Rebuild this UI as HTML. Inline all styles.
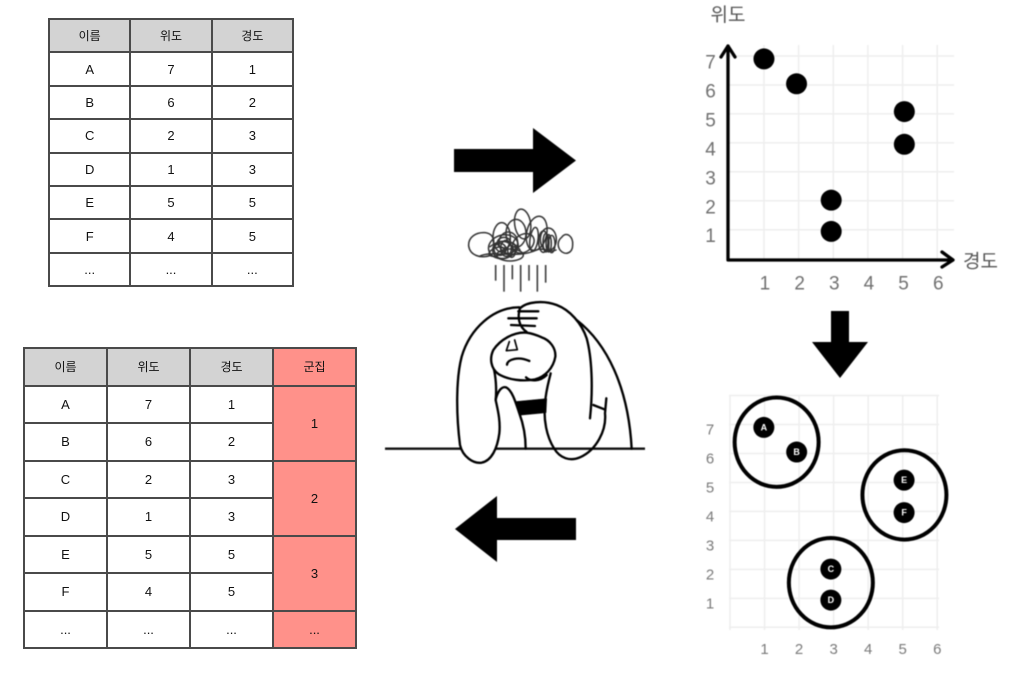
<!DOCTYPE html>
<html lang="ko">
<head>
<meta charset="utf-8">
<title>위도 경도 군집화</title>
<style>
html,body{margin:0;padding:0;background:#fff;}
#stage{position:relative;width:1017px;height:677px;overflow:hidden;background:#fff;font-family:"Liberation Sans","Noto Sans CJK KR",sans-serif;}
#art{position:absolute;left:0;top:0;filter:blur(.4px);}
#art text{font-family:"Liberation Sans","Noto Sans CJK KR",sans-serif;}
table{position:absolute;border-collapse:collapse;table-layout:fixed;color:#111;filter:blur(.35px);}
td,th{border:2px solid #4a4a4a;padding:0;text-align:center;vertical-align:middle;font-weight:400;}
th{background:#d3d3d3;font-size:12px;}
.red{background:#ff918a;}
#t1{left:48px;top:18px;width:246px;height:268px;font-size:13px;}
#t1 tr{height:33.4px;}
#t2{left:23px;top:347px;width:334px;height:300px;font-size:13px;}
#t2 tr{height:37.5px;}
</style>
</head>
<body>
<div id="stage">

<table id="t1">
<tr><th>이름</th><th>위도</th><th>경도</th></tr>
<tr><td>A</td><td>7</td><td>1</td></tr>
<tr><td>B</td><td>6</td><td>2</td></tr>
<tr><td>C</td><td>2</td><td>3</td></tr>
<tr><td>D</td><td>1</td><td>3</td></tr>
<tr><td>E</td><td>5</td><td>5</td></tr>
<tr><td>F</td><td>4</td><td>5</td></tr>
<tr><td>...</td><td>...</td><td>...</td></tr>
</table>

<table id="t2">
<tr><th>이름</th><th>위도</th><th>경도</th><th class="red">군집</th></tr>
<tr><td>A</td><td>7</td><td>1</td><td class="red" rowspan="2">1</td></tr>
<tr><td>B</td><td>6</td><td>2</td></tr>
<tr><td>C</td><td>2</td><td>3</td><td class="red" rowspan="2">2</td></tr>
<tr><td>D</td><td>1</td><td>3</td></tr>
<tr><td>E</td><td>5</td><td>5</td><td class="red" rowspan="2">3</td></tr>
<tr><td>F</td><td>4</td><td>5</td></tr>
<tr><td>...</td><td>...</td><td>...</td><td class="red">...</td></tr>
</table>

<svg id="art" width="1017" height="677" viewBox="0 0 1017 677" xmlns="http://www.w3.org/2000/svg">
  <polygon points="454,149 533,149 533,128 576,160.5 533,193 533,172 454,172" fill="#000"/>
  <polygon points="831,311 849,311 849,342 868,342 840,378 812,342 831,342" fill="#000"/>
  <polygon points="576,518 497,518 497,496 455,529 497,562 497,540 576,540" fill="#000"/>

  <g transform="translate(380,200) scale(.33333)" fill="none" stroke="#000" stroke-width="7" stroke-linecap="round" stroke-linejoin="round">
    <g stroke="#333" stroke-width="4.5">
      <path d="M335,165C300,178 270,165 266,138C264,110 290,96 315,98C335,100 345,115 340,135"/>
      <path d="M545,112C560,92 580,110 578,135C578,160 555,168 540,150C530,135 535,120 545,112Z"/>
      <ellipse cx="428" cy="72" rx="24" ry="45" transform="rotate(-8 428 72)"/>
      <ellipse cx="408" cy="100" rx="30" ry="42"/>
      <ellipse cx="365" cy="112" rx="26" ry="44"/>
      <ellipse cx="470" cy="100" rx="30" ry="52" transform="rotate(12 470 100)"/>
      <ellipse cx="505" cy="118" rx="24" ry="34"/>
      <ellipse cx="490" cy="125" rx="14" ry="32"/>
      <ellipse cx="498" cy="128" rx="9" ry="28"/>
      <ellipse cx="506" cy="130" rx="8" ry="26"/>
      <ellipse cx="515" cy="132" rx="10" ry="26"/>
      <ellipse cx="370" cy="140" rx="45" ry="35" transform="rotate(-15 370 140)"/>
      <ellipse cx="368" cy="150" rx="30" ry="26"/>
      <ellipse cx="360" cy="148" rx="18" ry="18"/>
      <ellipse cx="378" cy="145" rx="16" ry="24"/>
      <ellipse cx="350" cy="155" rx="24" ry="12" transform="rotate(-20 350 155)"/>
      <ellipse cx="390" cy="165" rx="40" ry="18"/>
      <ellipse cx="385" cy="128" rx="28" ry="32"/>
      <ellipse cx="372" cy="128" rx="20" ry="16"/>
      <ellipse cx="395" cy="150" rx="12" ry="22"/>
      <ellipse cx="430" cy="130" rx="35" ry="26" transform="rotate(-35 430 130)"/>
      <ellipse cx="462" cy="118" rx="12" ry="36" transform="rotate(8 462 118)"/>
      <path d="M300,168C340,150 410,178 470,150C490,140 510,160 528,150"/>
      <path d="M330,140C360,115 400,120 420,150"/>
    </g>
    <g stroke="#444" stroke-width="5" stroke-linecap="butt">
      <line x1="347" y1="195" x2="347" y2="242"/>
      <line x1="372" y1="195" x2="372" y2="275"/>
      <line x1="397" y1="195" x2="397" y2="238"/>
      <line x1="422" y1="195" x2="422" y2="275"/>
      <line x1="447" y1="195" x2="447" y2="242"/>
      <line x1="472" y1="195" x2="472" y2="275"/>
      <line x1="497" y1="195" x2="497" y2="248"/>
    </g>
    <line x1="15" y1="746" x2="795" y2="746" stroke="#111" stroke-width="7" stroke-linecap="butt"/>
    <path fill="#fff" d="M418,322C340,322 270,385 245,470C228,535 228,640 240,735C248,770 280,792 305,788C335,782 352,745 358,700C362,660 352,625 347,600C352,575 365,558 378,562C395,570 405,600 418,640C430,672 437,710 437,746"/>
    <path d="M340,500C348,530 350,570 347,600"/>
    <path d="M590,360C680,430 745,560 755,746"/>
    <path fill="#fff" d="M420,325C440,305 490,300 530,315C570,330 605,370 620,415C635,470 640,560 630,655"/>
    <path d="M679,595L675,640C680,690 650,750 600,772C570,785 540,775 522,745C500,710 490,660 495,610C498,570 505,550 512,520"/>
    <path d="M640,615L673,628"/>
    <path fill="#fff" d="M440,398C400,395 360,420 340,450C328,475 332,505 355,522C385,540 430,545 465,538C495,530 520,505 526,470C528,445 510,420 485,412C470,405 455,400 440,398Z"/>
    <path d="M438,532C450,545 480,545 500,525"/>
    <path stroke-width="5" d="M388,425L379,452L412,449L404,420"/>
    <path d="M381,494C382,478 415,468 448,483"/>
    <path d="M420,324C412,350 415,378 440,396"/>
    <path d="M415,334L475,334"/>
    <path d="M385,355L470,355"/>
    <path d="M393,375L465,378"/>
    <polygon points="405,605 500,596 498,638 422,645" fill="#000" stroke="#000" stroke-width="2"/>
  </g>

  <g id="chart-top"></g>
  <g id="chart-bottom"></g>
</svg>
</div>

<script>
// Chart values
const xTickLabels = [1, 2, 3, 4, 5, 6];
const yTickLabels = [1, 2, 3, 4, 5, 6, 7];
const topLongitude = [1.0, 1.94, 2.94, 2.94, 5.05, 5.05];
const topLatitude = [6.9, 6.04, 2.02, 0.94, 5.08, 3.95];
const bottomLongitude = [0.98, 1.93, 2.92, 2.92, 5.04, 5.04];
const bottomLatitude = [6.9, 6.05, 2.01, 0.94, 5.08, 3.96];
const pointLabels = ['A', 'B', 'C', 'D', 'E', 'F'];
const clusterLongitude = [1.35, 5.05, 2.92];
const clusterLatitude = [6.39, 4.57, 1.54];

const NS = 'http://www.w3.org/2000/svg';
function make(parent, tag, attrs, text) {
  const el = document.createElementNS(NS, tag);
  for (const k in attrs) el.setAttribute(k, attrs[k]);
  if (text !== undefined) el.textContent = text;
  parent.appendChild(el);
  return el;
}

// Top chart axis functions
const topX = v => 729.3 + 34.66 * v;
const topY = v => 258.65 - 28.95 * v;
const topG = document.getElementById('chart-top');

xTickLabels.forEach(v => {
  const line = make(topG, 'line', {x1: topX(v), x2: topX(v), y1: 45, y2: 260, stroke: '#eeeeee', 'stroke-width': 1.5});
  
  
  const label = make(topG, 'text', {x: topX(v) + 1, y: 284, 'text-anchor': 'middle', 'dominant-baseline': 'central', 'font-size': 19, fill: '#707070'}, v);
  
  
});
yTickLabels.forEach(v => {
  const line = make(topG, 'line', {x1: 728, x2: 954, y1: topY(v), y2: topY(v), stroke: '#eeeeee', 'stroke-width': 1.5});
  
  
  const label = make(topG, 'text', {x: 710.5, y: topY(v) + 7, 'text-anchor': 'middle', 'dominant-baseline': 'central', 'font-size': 19, fill: '#707070'}, v);
  
  
});
const axisPath = make(topG, 'path', {d: 'M721,57L728,46L735,57M728,46L728,260L952,260M942,252L953,260L942,267', fill: 'none', stroke: '#000', 'stroke-width': 3.3, 'stroke-linejoin': 'round', 'stroke-linecap': 'round'});


const yTitle = make(topG, 'text', {x: 728, y: 15.5, 'text-anchor': 'middle', 'dominant-baseline': 'central', 'font-size': 19, fill: '#555'}, '위도');


const xTitle = make(topG, 'text', {x: 980.5, y: 262, 'text-anchor': 'middle', 'dominant-baseline': 'central', 'font-size': 19, fill: '#555'}, '경도');


topLongitude.forEach((lon, i) => {
  const dot = make(topG, 'circle', {cx: topX(lon), cy: topY(topLatitude[i]), r: 10.5, fill: '#000'});
  
  
});

// Bottom chart axis functions
const botX = v => 730 + 34.54 * v;
const botY = v => 627.3 - 28.97 * v;
const botG = document.getElementById('chart-bottom');

[0].concat(xTickLabels).forEach(v => {
  const line = make(botG, 'line', {x1: botX(v), x2: botX(v), y1: 395, y2: 630, stroke: '#eeeeee', 'stroke-width': 1.5});
  
  
});
[0].concat(yTickLabels, [8]).forEach(v => {
  const line = make(botG, 'line', {x1: 729, x2: 939, y1: botY(v), y2: botY(v), stroke: '#eeeeee', 'stroke-width': 1.5});
  
  
});
xTickLabels.forEach(v => {
  const label = make(botG, 'text', {x: botX(v), y: 649.5, 'text-anchor': 'middle', 'dominant-baseline': 'central', 'font-size': 15, fill: '#7a7a7a'}, v);
  
  
});
yTickLabels.forEach(v => {
  const label = make(botG, 'text', {x: 710, y: botY(v) + 5.5, 'text-anchor': 'middle', 'dominant-baseline': 'central', 'font-size': 15, fill: '#7a7a7a'}, v);
  
  
});
clusterLongitude.forEach((lon, i) => {
  const ring = make(botG, 'ellipse', {cx: botX(lon), cy: botY(clusterLatitude[i]), rx: 42, ry: 44.7, fill: 'none', stroke: '#000', 'stroke-width': 4});
  
  
});
bottomLongitude.forEach((lon, i) => {
  const dot = make(botG, 'circle', {cx: botX(lon), cy: botY(bottomLatitude[i]), r: 10.5, fill: '#000'});
  
  
  const tag = make(botG, 'text', {x: botX(lon), y: botY(bottomLatitude[i]), 'text-anchor': 'middle', 'dominant-baseline': 'central', 'font-size': 9, 'font-weight': 700, fill: '#fff'}, pointLabels[i]);
  
  
});
</script>
</body>
</html>
